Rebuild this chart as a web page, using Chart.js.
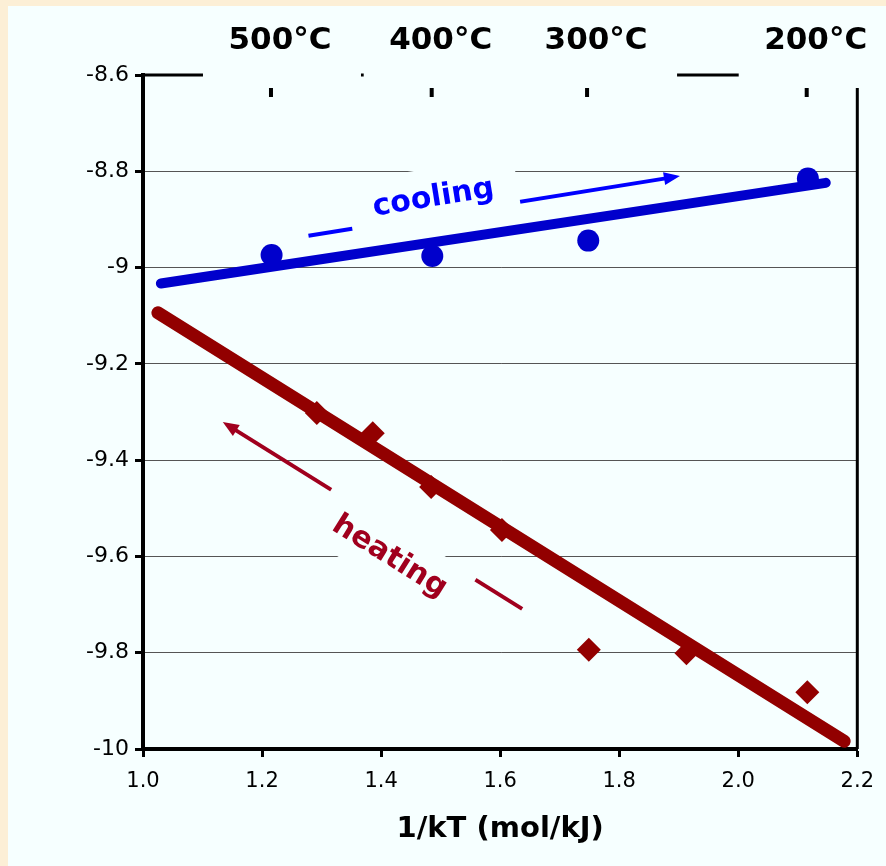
<!DOCTYPE html>
<html lang="en">
<head>
    <meta charset="UTF-8">
    <title>Cooling and heating - 1/kT</title>
    <style>
        html, body { margin: 0; padding: 0; background: #fcefd6; }
    </style>
</head>
<body>
    <canvas id="myChart" width="886" height="866"></canvas>

    <script src="https://cdn.jsdelivr.net/npm/chart.js"></script>
    <script>
    // axis ticks
    const xTicks = [1.0, 1.2, 1.4, 1.6, 1.8, 2.0, 2.2];
    const yTicks = [-10, -9.8, -9.6, -9.4, -9.2, -9.0, -8.8, -8.6];

    // temperature marks along the top (1/kT position of each temperature)
    const tempLabels = ['500°C', '400°C', '300°C', '200°C'];
    const tempX = [1.215, 1.485, 1.746, 2.115];

    // cooling measurements
    const coolingX = [1.216, 1.486, 1.748, 2.117];
    const coolingY = [-8.974, -8.976, -8.944, -8.815];

    // heating measurements
    const heatingX = [1.292, 1.386, 1.484, 1.603, 1.749, 1.913, 2.116];
    const heatingY = [-9.302, -9.344, -9.456, -9.545, -9.794, -9.801, -9.882];

    // fitted lines (end points)
    const coolFitX = [1.030, 2.147];
    const coolFitY = [-9.033, -8.824];
    const heatFitX = [1.025, 2.178];
    const heatFitY = [-9.094, -9.984];

    // annotation arrows: [x0, y0, x1, y1] with head at the second point, plus label centre
    const coolArrow = [1.278, -8.934, 1.902, -8.810];
    const coolLabel = [1.488, -8.856];
    const heatArrow = [1.637, -9.709, 1.134, -9.321];
    const heatLabel = [1.414, -9.601];

    const BG = '#f6ffff';
    const BLUE = '#0000cc';
    const BLUE_NOTE = '#0000ff';
    const RED = '#920000';
    const RED_NOTE = '#a0001e';
    const FONT = "'DejaVu Sans', sans-serif";

    const toPoints = (xs, ys) => xs.map((v, i) => ({ x: v, y: ys[i] }));

    function drawArrow(ctx, x0, y0, x1, y1, color) {
        const a = Math.atan2(y1 - y0, x1 - x0);
        const headLen = 16, headW = 13;
        ctx.strokeStyle = color;
        ctx.lineWidth = 4;
        ctx.beginPath();
        ctx.moveTo(x0, y0);
        ctx.lineTo(x1 - Math.cos(a) * headLen * 0.8, y1 - Math.sin(a) * headLen * 0.8);
        ctx.stroke();
        ctx.save();
        ctx.translate(x1, y1);
        ctx.rotate(a);
        ctx.fillStyle = color;
        ctx.beginPath();
        ctx.moveTo(0, 0);
        ctx.lineTo(-headLen, -headW / 2);
        ctx.lineTo(-headLen, headW / 2);
        ctx.closePath();
        ctx.fill();
        ctx.restore();
        // keep text readable left to right
        let ang = a;
        if (ang > Math.PI / 2) ang -= Math.PI;
        if (ang < -Math.PI / 2) ang += Math.PI;
        return ang;
    }

    function drawTag(ctx, cx, cy, angle, text, color) {
        ctx.save();
        ctx.translate(cx, cy);
        ctx.rotate(angle);
        ctx.fillStyle = BG;
        ctx.fillRect(-85, -30, 170, 57);
        ctx.fillStyle = color;
        ctx.font = 'bold 30px ' + FONT;
        ctx.textAlign = 'center';
        ctx.textBaseline = 'middle';
        ctx.fillText(text, 0, 0);
        ctx.restore();
    }

    const background = {
        id: 'background',
        beforeDraw(chart) {
            const ctx = chart.ctx;
            ctx.save();
            ctx.fillStyle = '#fcefd6';
            ctx.fillRect(0, 0, chart.width, chart.height);
            ctx.fillStyle = BG;
            ctx.fillRect(8, 6, chart.width - 8, chart.height - 6);
            ctx.restore();
        }
    };

    const notes = {
        id: 'notes',
        beforeDatasetsDraw(chart) {
            const { ctx, chartArea: area, scales: { x, y } } = chart;
            ctx.save();

            // top and right frame
            ctx.strokeStyle = '#000';
            ctx.lineWidth = 3;
            ctx.beginPath();
            ctx.moveTo(area.left, area.top);
            ctx.lineTo(area.right, area.top);
            ctx.lineTo(area.right, area.bottom);
            ctx.stroke();

            // temperature labels on top
            tempX.forEach((t, i) => {
                const px = x.getPixelForValue(t);
                ctx.fillStyle = BG;
                ctx.fillRect(px - 68, area.top - 16, 158, 29);
                ctx.fillStyle = '#000';
                ctx.fillRect(px - 2, area.top + 13, 4, 9);
                ctx.font = 'bold 31px ' + FONT;
                ctx.textAlign = 'center';
                ctx.textBaseline = 'alphabetic';
                ctx.fillText(tempLabels[i], px + 9, area.top - 26);
            });

            // cooling arrow + label
            let a = drawArrow(ctx,
                x.getPixelForValue(coolArrow[0]), y.getPixelForValue(coolArrow[1]),
                x.getPixelForValue(coolArrow[2]), y.getPixelForValue(coolArrow[3]), BLUE_NOTE);
            drawTag(ctx, x.getPixelForValue(coolLabel[0]), y.getPixelForValue(coolLabel[1]), a, 'cooling', BLUE_NOTE);

            // heating arrow + label
            a = drawArrow(ctx,
                x.getPixelForValue(heatArrow[0]), y.getPixelForValue(heatArrow[1]),
                x.getPixelForValue(heatArrow[2]), y.getPixelForValue(heatArrow[3]), RED_NOTE);
            drawTag(ctx, x.getPixelForValue(heatLabel[0]), y.getPixelForValue(heatLabel[1]), a, 'heating', RED_NOTE);

            ctx.restore();
        }
    };

    Chart.defaults.font.family = FONT;
    Chart.defaults.color = '#000';

    const ctx = document.getElementById('myChart').getContext('2d');
    new Chart(ctx, {
        type: 'scatter',
        data: {
            datasets: [
                {
                    label: 'cooling',
                    data: toPoints(coolingX, coolingY),
                    pointStyle: 'circle',
                    pointRadius: 11,
                    backgroundColor: BLUE,
                    borderColor: BLUE,
                    borderWidth: 0
                },
                {
                    label: 'heating',
                    data: toPoints(heatingX, heatingY),
                    pointStyle: 'rectRot',
                    pointRadius: 12,
                    backgroundColor: RED,
                    borderColor: RED,
                    borderWidth: 0
                },
                {
                    label: 'cooling fit',
                    data: toPoints(coolFitX, coolFitY),
                    showLine: true,
                    pointRadius: 0,
                    borderColor: BLUE,
                    borderWidth: 10,
                    borderCapStyle: 'round',
                    clip: false
                },
                {
                    label: 'heating fit',
                    data: toPoints(heatFitX, heatFitY),
                    showLine: true,
                    pointRadius: 0,
                    borderColor: RED,
                    borderWidth: 13,
                    borderCapStyle: 'round',
                    clip: false
                }
            ]
        },
        options: {
            responsive: false,
            animation: false,
            layout: { padding: { top: 75, right: 27, bottom: 0, left: 0 } },
            plugins: {
                legend: { display: false },
                tooltip: { enabled: false }
            },
            scales: {
                x: {
                    type: 'linear',
                    min: xTicks[0],
                    max: xTicks[xTicks.length - 1],
                    afterBuildTicks: s => { s.ticks = xTicks.map(v => ({ value: v })); },
                    afterFit: s => { s.height = 117; },
                    ticks: {
                        font: { size: 21 },
                        padding: 12,
                        maxRotation: 0,
                        callback: v => Number(v).toFixed(1)
                    },
                    grid: {
                        drawOnChartArea: false,
                        tickLength: 8,
                        tickWidth: 3,
                        tickColor: '#000'
                    },
                    border: { display: true, color: '#000', width: 4 },
                    title: {
                        display: true,
                        text: '1/kT (mol/kJ)',
                        font: { size: 29, weight: 'bold' },
                        padding: { top: 0, bottom: 19 }
                    }
                },
                y: {
                    type: 'linear',
                    min: yTicks[0],
                    max: yTicks[yTicks.length - 1],
                    afterBuildTicks: s => { s.ticks = yTicks.map(v => ({ value: v })); },
                    afterFit: s => { s.width = 143; },
                    ticks: {
                        font: { size: 22 },
                        padding: 6,
                        callback: v => String(Number(Number(v).toFixed(1)))
                    },
                    grid: {
                        color: '#555',
                        lineWidth: 1,
                        tickLength: 8,
                        tickWidth: 3,
                        tickColor: '#000'
                    },
                    border: { display: true, color: '#000', width: 4 }
                }
            }
        },
        plugins: [background, notes]
    });
    </script>
</body>
</html>
